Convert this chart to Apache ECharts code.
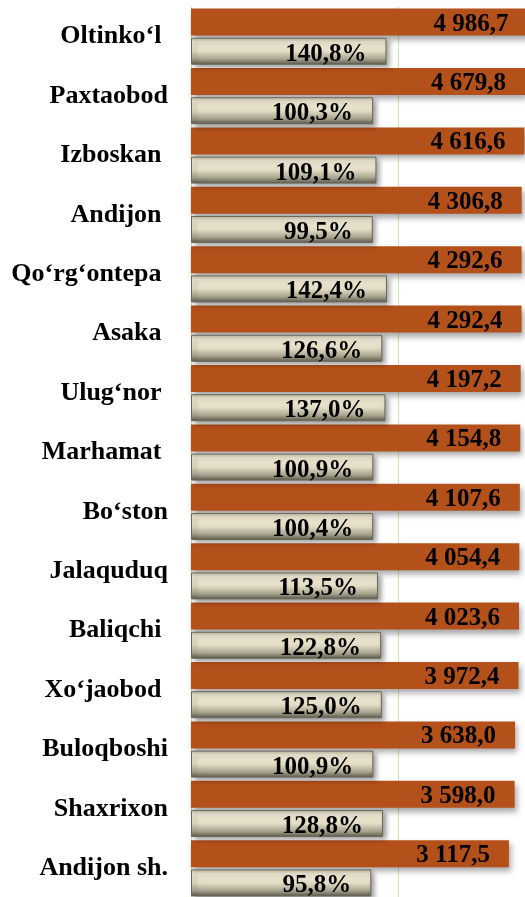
<!DOCTYPE html>
<html>
<head>
<meta charset="utf-8">
<script src="https://cdn.jsdelivr.net/npm/echarts@6/dist/echarts.min.js"></script>
<style>
  html, body { margin: 0; padding: 0; background: #fff; }
  #chart { width: 525px; height: 897px; }
</style>
</head>
<body>
<div id="chart"></div>
<script>
  // tumanlar (trailing spaces kept as in the source labels)
  var districts = ["Oltinko‘l ", "Paxtaobod", "Izboskan ", "Andijon ", "Qo‘rg‘ontepa ",
    "Asaka ", "Ulug‘nor ", "Marhamat ", "Bo‘ston", "Jalaquduq", "Baliqchi ",
    "Xo‘jaobod ", "Buloqboshi", "Shaxrixon", "Andijon sh."];
  // hajm
  var volumes = [4986.7, 4679.8, 4616.6, 4306.8, 4292.6, 4292.4, 4197.2, 4154.8,
    4107.6, 4054.4, 4023.6, 3972.4, 3638.0, 3598.0, 3117.5];
  // o'sish sur'ati, %
  var growth = [140.8, 100.3, 109.1, 99.5, 142.4, 126.6, 137.0, 100.9, 100.4,
    113.5, 122.8, 125.0, 100.9, 128.8, 95.8];

  var font = "Liberation Serif";
  var gridWidth = 414;

  // 4 986,7 style
  function fmtNum(v) {
    var parts = v.toFixed(1).split(".");
    var intPart = parts[0].replace(/\B(?=(\d{3})+(?!\d))/g, " ");
    return intPart + "," + parts[1];
  }

  var chart = echarts.init(document.getElementById("chart"));
  chart.setOption({
    backgroundColor: "#fff",
    animation: false,
    grid: { left: 191, top: 7, width: gridWidth, height: 891, outerBoundsMode: "none" },
    xAxis: [
      {
        type: "log",
        logBase: 10,
        min: 1,
        max: Math.pow(10, gridWidth / 91),
        show: false
      },
      {
        // only used for the single vertical gridline
        type: "value",
        min: 0,
        max: 2,
        interval: 1,
        axisLine: { show: false },
        axisTick: { show: false },
        axisLabel: { show: false },
        splitLine: { show: true, lineStyle: { color: "#cfe6a6", width: 1 } }
      }
    ],
    yAxis: {
      type: "category",
      inverse: true,
      data: districts,
      axisLine: { show: true, lineStyle: { color: "#cfe6a6", width: 1 } },
      axisTick: { show: false },
      axisLabel: {
        margin: 23,
        fontFamily: font,
        fontWeight: "bold",
        fontSize: 26,
        color: "#000"
      }
    },
    series: [
      {
        name: "hajm",
        type: "bar",
        data: volumes,
        barWidth: 27,
        barGap: "8%",
        itemStyle: {
          color: "#b4501a",
          shadowColor: "rgba(0,0,0,0.35)",
          shadowBlur: 6,
          shadowOffsetX: 2,
          shadowOffsetY: 4
        },
        label: {
          show: true,
          position: "insideRight",
          distance: 19,
          offset: [0, 2],
          fontFamily: font,
          fontWeight: "bold",
          fontSize: 25,
          color: "#000",
          formatter: function (p) { return fmtNum(p.value); }
        }
      },
      {
        name: "o'sish",
        type: "bar",
        data: growth,
        barWidth: 27,
        itemStyle: {
          color: new echarts.graphic.LinearGradient(0, 0, 0, 1, [
            { offset: 0, color: "#b9b5a0" },
            { offset: 0.15, color: "#ece6d1" },
            { offset: 0.5, color: "#e4ddc6" },
            { offset: 0.78, color: "#a9a590" },
            { offset: 1, color: "#5b594b" }
          ]),
          borderColor: "#6a685a",
          borderWidth: 1,
          shadowColor: "rgba(0,0,0,0.4)",
          shadowBlur: 5,
          shadowOffsetX: 3,
          shadowOffsetY: 3
        },
        label: {
          show: true,
          position: "insideRight",
          distance: 20,
          offset: [0, 3],
          fontFamily: font,
          fontWeight: "bold",
          fontSize: 25,
          color: "#000",
          formatter: function (p) { return p.value.toFixed(1).replace(".", ",") + "%"; }
        }
      }
    ]
  });
</script>
</body>
</html>
